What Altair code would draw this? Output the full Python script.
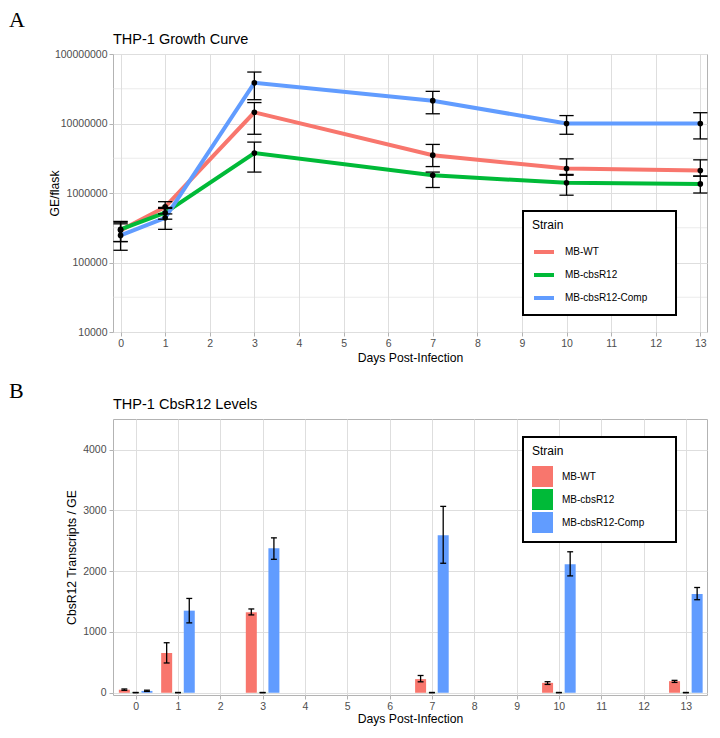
import altair as alt
import pandas as pd

# ---------------- data ----------------
strains = ["MB-WT", "MB-cbsR12", "MB-cbsR12-Comp"]
colors = ["#F8766D", "#00BA38", "#619CFF"]
days = [0, 1, 3, 7, 10, 13]
day_ticks = list(range(14))

# Panel A: genome equivalents per flask (mean, lower, upper)
ge_wt = [2.9e5, 6.3e5, 1.45e7, 3.5e6, 2.25e6, 2.1e6]
ge_wt_lo = [2.0e5, 5.0e5, 7.0e6, 2.4e6, 1.8e6, 1.75e6]
ge_wt_hi = [3.8e5, 7.5e5, 2.0e7, 5.0e6, 3.1e6, 3.0e6]
ge_kd = [3.0e5, 5.2e5, 3.75e6, 1.8e6, 1.4e6, 1.35e6]
ge_kd_lo = [2.0e5, 4.2e5, 2.0e6, 1.2e6, 0.93e6, 1.0e6]
ge_kd_hi = [3.9e5, 6.2e5, 5.4e6, 2.0e6, 1.85e6, 1.75e6]
ge_comp = [2.45e5, 4.4e5, 3.85e7, 2.13e7, 1.0e7, 1.0e7]
ge_comp_lo = [1.5e5, 3.0e5, 2.2e7, 1.38e7, 7.0e6, 6.0e6]
ge_comp_hi = [3.6e5, 6.0e5, 5.5e7, 2.9e7, 1.3e7, 1.43e7]
ge_ticks = [10000, 100000, 1000000, 10000000, 100000000]
ge_minor = [31623, 316228, 3162278, 31622777]

# Panel B: CbsR12 transcripts / GE (mean, lower, upper)
cb_wt = [50, 654, 1324, 224, 163, 191]
cb_wt_lo = [40, 490, 1281, 180, 137, 170]
cb_wt_hi = [62, 823, 1379, 284, 182, 204]
cb_kd = [2, 2, 2, 2, 2, 2]
cb_kd_lo = [0, 0, 0, 0, 0, 0]
cb_kd_hi = [5, 5, 5, 5, 5, 5]
cb_comp = [30, 1351, 2376, 2593, 2114, 1624]
cb_comp_lo = [22, 1150, 2196, 2131, 1923, 1531]
cb_comp_hi = [42, 1552, 2549, 3067, 2320, 1732]
cb_ticks = [0, 1000, 2000, 3000, 4000]

panel_a = "A"
panel_b = "B"
title_a = "THP-1 Growth Curve"
title_b = "THP-1 CbsR12 Levels"
x_title = "Days Post-Infection"


def long_df(vals, los, his):
    rows = []
    for s, v, lo, hi in zip(strains, vals, los, his):
        for d, a, b, c in zip(days, v, lo, hi):
            rows.append({"day": d, "strain": s, "value": a, "lo": b, "hi": c})
    return pd.DataFrame(rows)


ge_df = long_df([ge_wt, ge_kd, ge_comp], [ge_wt_lo, ge_kd_lo, ge_comp_lo],
                [ge_wt_hi, ge_kd_hi, ge_comp_hi])
cb_df = long_df([cb_wt, cb_kd, cb_comp], [cb_wt_lo, cb_kd_lo, cb_comp_lo],
                [cb_wt_hi, cb_kd_hi, cb_comp_hi])

FONT = "Liberation Sans"
SERIF = "Liberation Serif"
GRID = "#dedede"
TICK = "#b3b3b3"
LAB = "#4d4d4d"
PW = 594
H_A = 278
H_B = 276
LEFT = -104

# legend title padded (non-breaking spaces kept by a trailing zero-width char)
legend_title = "Strain" + "\u00a0" * 31 + "\u200b"


def x_axis(label_pad, title_pad):
    return alt.Axis(values=day_ticks, format="d", title=x_title, grid=True,
                    gridColor=GRID, domain=False, tickColor=TICK, tickSize=4,
                    labelPadding=label_pad, labelFontSize=10.5, labelColor=LAB,
                    titleFontSize=12.2, titlePadding=title_pad, titleColor="black",
                    titleFontWeight="normal", labelFont=FONT, titleFont=FONT)


def text_layer(txt, font, size, x, y, baseline):
    return alt.Chart(pd.DataFrame({"t": [txt]})).mark_text(
        align="left", baseline=baseline, font=font, fontSize=size,
        color="black").encode(text="t:N", x=alt.value(x), y=alt.value(y))


# ---------------- Panel A ----------------
xs_a = alt.Scale(domain=[-0.17, 13.15], nice=False, zero=False)
ys_a = alt.Scale(type="log", domain=[1e4, 1e8], nice=False)

base_a = alt.Chart(ge_df)
X_a = alt.X("day:Q", scale=xs_a, axis=x_axis(2, 3))
y_axis_a = alt.Axis(values=ge_ticks, format="d", title="GE/flask", grid=True,
                    gridColor=GRID, domain=False, tickColor=TICK, tickSize=4,
                    labelPadding=2, labelFontSize=10.5, labelColor=LAB,
                    titleFontSize=12.2, titlePadding=-7, titleColor="black",
                    titleFontWeight="normal", labelFont=FONT, titleFont=FONT)

minor_a = alt.Chart(pd.DataFrame({"v": ge_minor})).mark_rule(
    color=GRID, strokeWidth=0.6).encode(y=alt.Y("v:Q", scale=ys_a, axis=y_axis_a))

lines_a = base_a.mark_line(strokeWidth=4).encode(
    x=X_a,
    y=alt.Y("value:Q", scale=ys_a),
    color=alt.Color("strain:N", scale=alt.Scale(domain=strains, range=colors),
                    sort=strains,
                    legend=alt.Legend(title=legend_title, orient="none",
                                      legendX=410, legendY=157,
                                      symbolType="stroke", symbolStrokeWidth=4,
                                      symbolSize=400, labelOffset=9,
                                      rowPadding=3, titlePadding=8,
                                      padding=9)),
    order=alt.Order("order:Q"),
).transform_calculate(order="indexof(%s, datum.strain)" % str(strains))

err_a = base_a.mark_rule(color="black", strokeWidth=1.3).encode(
    x=X_a, y=alt.Y("lo:Q", scale=ys_a), y2="hi:Q")
cap_lo_a = base_a.transform_calculate(
    x1="datum.day - 0.16", x2="datum.day + 0.16").mark_rule(
    color="black", strokeWidth=1.3).encode(
    x=alt.X("x1:Q", scale=xs_a), x2="x2:Q", y=alt.Y("lo:Q", scale=ys_a))
cap_hi_a = base_a.transform_calculate(
    x1="datum.day - 0.16", x2="datum.day + 0.16").mark_rule(
    color="black", strokeWidth=1.3).encode(
    x=alt.X("x1:Q", scale=xs_a), x2="x2:Q", y=alt.Y("hi:Q", scale=ys_a))
pts_a = base_a.mark_circle(color="black", opacity=1, size=32).encode(
    x=X_a, y=alt.Y("value:Q", scale=ys_a))

top = alt.layer(
    minor_a, lines_a, err_a, cap_lo_a, cap_hi_a, pts_a,
    text_layer(title_a, FONT, 14.5, 0, -10, "alphabetic"),
    text_layer(panel_a, SERIF, 22, LEFT, -44, "top"),
).properties(width=PW, height=H_A)

# ---------------- Panel B ----------------
xs_b = alt.Scale(domain=[-0.535, 13.5], nice=False, zero=False)
ys_b = alt.Scale(domain=[-37, 4505], nice=False, zero=False)
base_b = alt.Chart(cb_df).transform_calculate(
    pos="datum.day + (indexof(%s, datum.strain) - 1) * 0.267" % str(strains))
y_axis_b = alt.Axis(values=cb_ticks, format="d", title="CbsR12 Transcripts / GE",
                    grid=True, gridColor=GRID, domain=False, tickColor=TICK,
                    tickSize=4, labelPadding=3, labelFontSize=10.5, labelColor=LAB,
                    titleFontSize=12.2, titlePadding=4, titleColor="black",
                    titleFontWeight="normal", labelFont=FONT, titleFont=FONT)

bars_b = base_b.transform_calculate(
    b1="datum.pos - 0.13", b2="datum.pos + 0.13").mark_bar().encode(
    x=alt.X("b1:Q", scale=xs_b, axis=x_axis(2, 1)), x2="b2:Q",
    y=alt.Y("value:Q", scale=ys_b, axis=y_axis_b), y2=alt.datum(0),
    color=alt.Color("strain:N", scale=alt.Scale(domain=strains, range=colors),
                    sort=strains,
                    legend=alt.Legend(title=legend_title, orient="none",
                                      legendX=410, legendY=18,
                                      symbolType="square", symbolSize=441,
                                      symbolStrokeWidth=0, labelOffset=9,
                                      rowPadding=2, titlePadding=8,
                                      padding=9)))
err_b = base_b.mark_rule(color="black", strokeWidth=1.3).encode(
    x=alt.X("pos:Q", scale=xs_b), y=alt.Y("lo:Q", scale=ys_b), y2="hi:Q")
cap_lo_b = base_b.transform_calculate(
    c1="datum.pos - 0.07", c2="datum.pos + 0.07").mark_rule(
    color="black", strokeWidth=1.3).encode(
    x=alt.X("c1:Q", scale=xs_b), x2="c2:Q", y=alt.Y("lo:Q", scale=ys_b))
cap_hi_b = base_b.transform_calculate(
    c1="datum.pos - 0.07", c2="datum.pos + 0.07").mark_rule(
    color="black", strokeWidth=1.3).encode(
    x=alt.X("c1:Q", scale=xs_b), x2="c2:Q", y=alt.Y("hi:Q", scale=ys_b))

bottom = alt.layer(
    bars_b, err_b, cap_lo_b, cap_hi_b,
    text_layer(title_b, FONT, 14.5, 0, -10, "alphabetic"),
    text_layer(panel_b, SERIF, 22, LEFT, -38, "top"),
).properties(width=PW, height=H_B)

chart = alt.vconcat(top, bottom, spacing=14).resolve_scale(
    x="independent", y="independent", color="independent"
).resolve_legend(color="independent").properties(
    padding={"left": 0, "top": 0, "right": 0, "bottom": 0}
).configure_view(stroke=TICK, strokeWidth=1).configure_legend(
    strokeColor="black", strokeWidth=2, fillColor="white",
    titleFont=FONT, titleFontSize=12, titleFontWeight="normal",
    titleColor="black", labelFont=FONT, labelFontSize=10, labelColor="black"
).configure_text(font=FONT)

chart.save("out.html", embed_options={"renderer": "svg", "actions": False})
